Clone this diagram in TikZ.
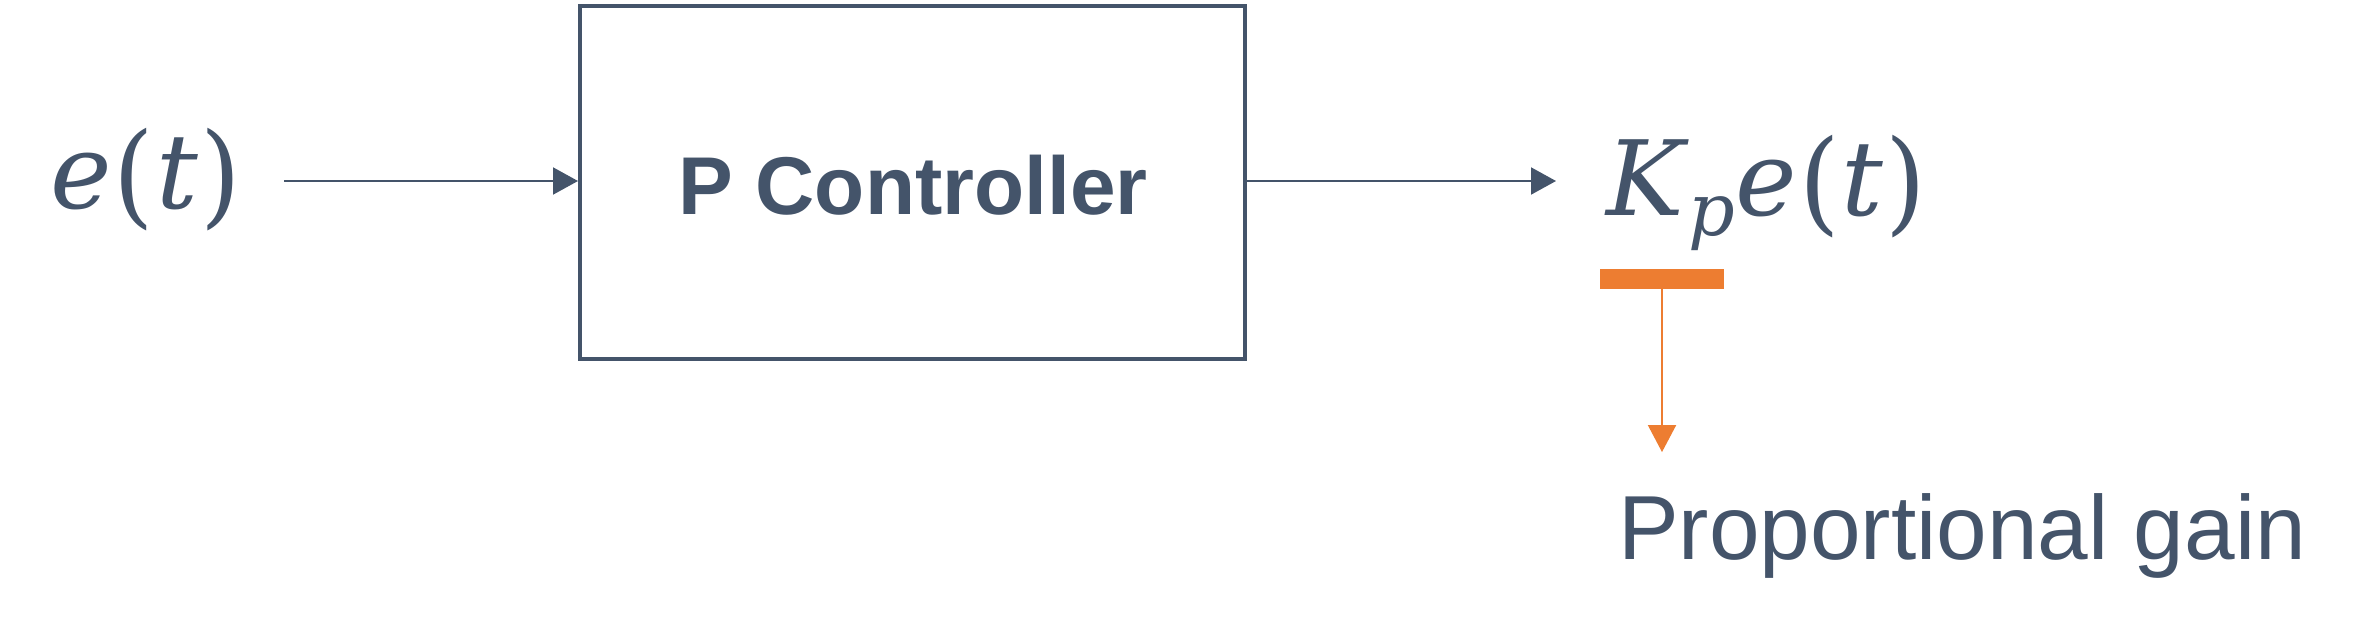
\documentclass[tikz,border=0pt]{standalone}
\usepackage{fontspec}
\setmainfont{Liberation Sans}
\newfontfamily\mathserif{DejaVu Serif}
\usetikzlibrary{arrows.meta}
\definecolor{slate}{HTML}{44546A}
\definecolor{orng}{HTML}{ED7D31}
\newcommand{\tallpar}[1]{\raisebox{-5pt}{\scalebox{1}[1.08]{#1}}}
\begin{document}
\begin{tikzpicture}[x=1pt,y=-1pt,
  txt/.style={inner sep=0pt, outer sep=0pt, text=slate},
  flow/.style={draw=slate, line width=2pt, -{Triangle[length=25pt,width=27pt]}},
  block/.style={draw=slate, line width=4pt, minimum width=665pt, minimum height=353pt, inner sep=0pt},
  gainbar/.style={fill=orng, minimum width=124pt, minimum height=20pt, inner sep=0pt, outer sep=0pt},
  gainarrow/.style={draw=orng, line width=2pt, -{Triangle[length=27pt,width=28pt]}}]
\useasboundingbox (0,0) rectangle (2374,637);
\node[block] (ctrl) at (912.5,182.5) {};
\node[txt, anchor=base, font=\bfseries\fontsize{82}{82}\selectfont] (title) at (913,214) {P Controller};
\node[txt, anchor=base west, font=\mathserif\fontsize{104}{104}\selectfont] (et) at (50,208) {\textit{e}\kern2pt\tallpar{(}\kern2pt\textit{t}\kern2pt\tallpar{)}};
\node[txt, anchor=base west, font=\mathserif\fontsize{104}{104}\selectfont] (out) at (1606,215) {\textit{K}\raisebox{-20pt}{\fontsize{73}{73}\selectfont\textit{p}}\textit{e}\kern2pt\tallpar{(}\kern2pt\textit{t}\kern2pt\tallpar{)}};
\coordinate (in0) at (284,181);
\coordinate (out1) at (1556,181);
\draw[flow] (in0) -- (ctrl.west |- in0);
\draw[flow] (ctrl.east |- out1) -- (out1);
\node[gainbar] (bar) at (1662,279) {};
\node[txt, anchor=base west, font=\fontsize{91}{91}\selectfont] (gain) at (1618,559) {Proportional gain};
\draw[gainarrow, shorten >=41pt] (bar.south) -- (bar.south |- gain.north);
\end{tikzpicture}
\end{document}
